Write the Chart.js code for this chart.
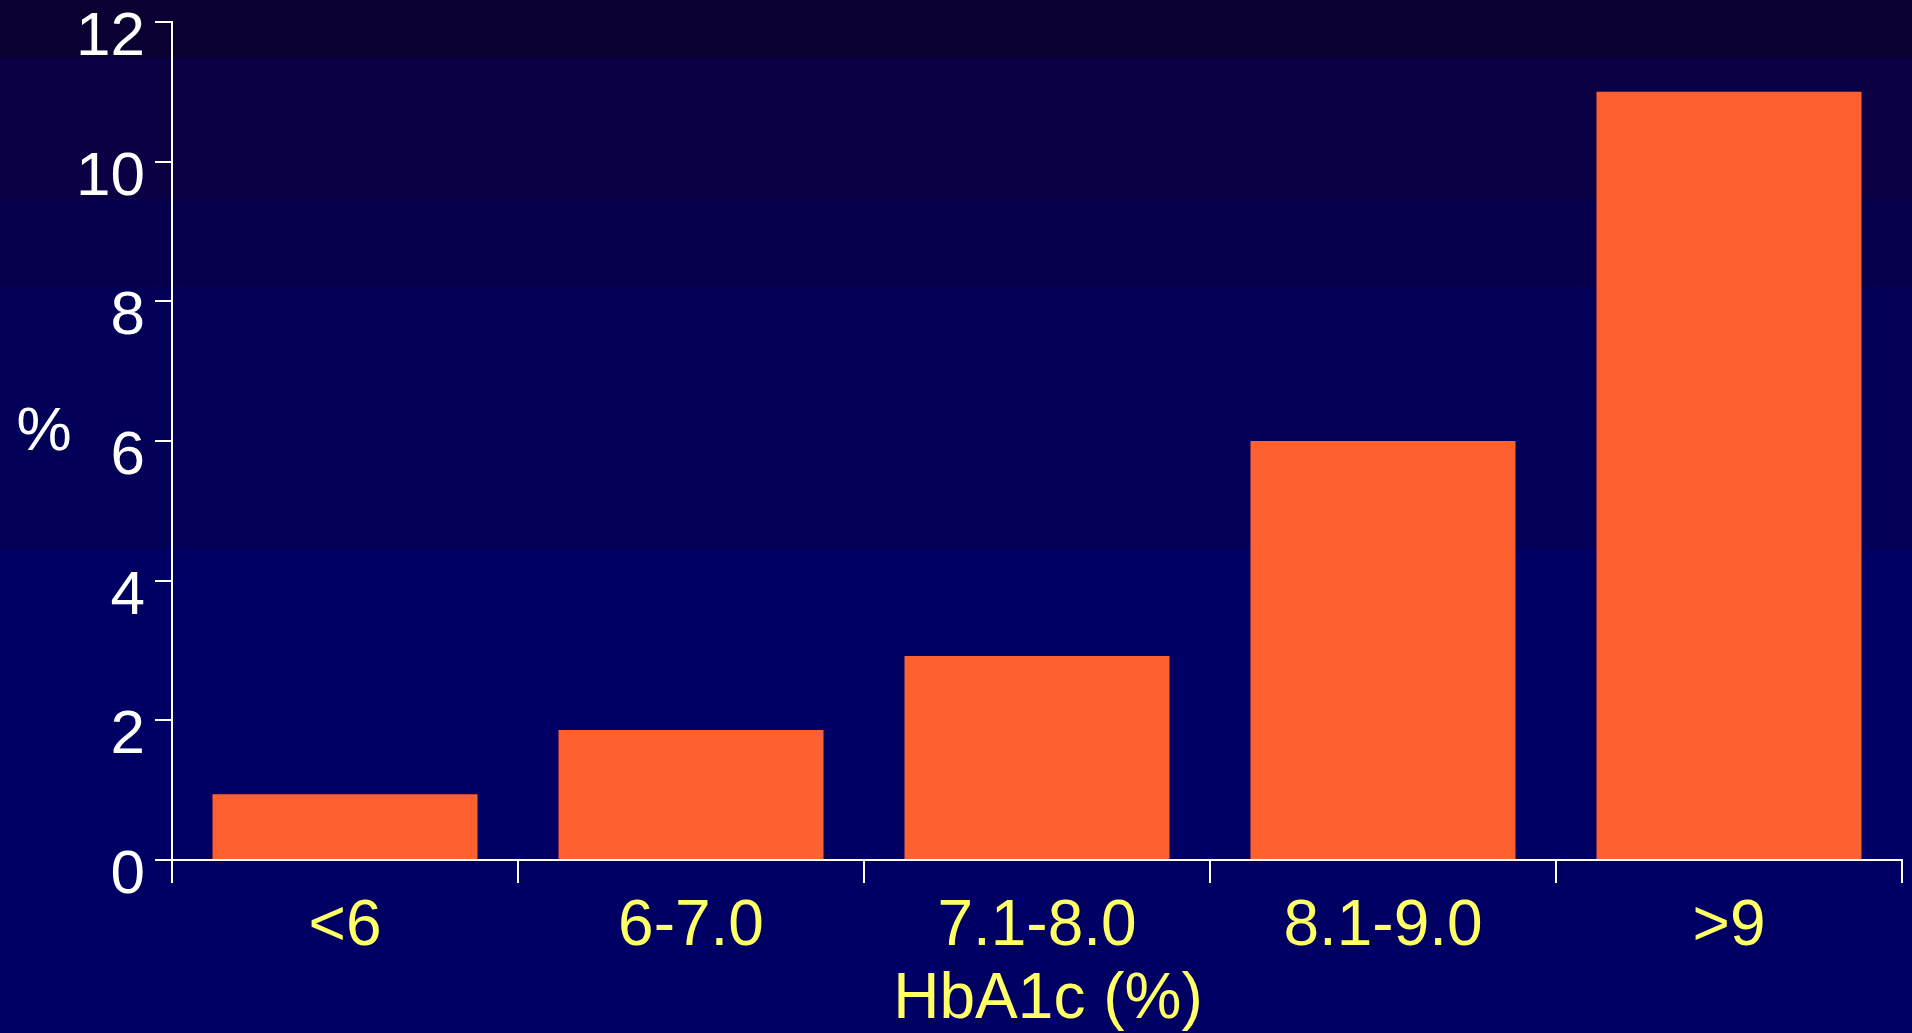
<!DOCTYPE html>
<html>
<head>
<meta charset="utf-8">
<script src="https://cdn.jsdelivr.net/npm/chart.js@4.4.1/dist/chart.umd.min.js"></script>
<style>
  html, body {
    margin: 0;
    padding: 0;
    width: 1912px;
    height: 1033px;
    overflow: hidden;
    background: linear-gradient(to bottom,
      #0a0031 0px, #0a0031 58px,
      #0a0043 58px, #0a0043 200px,
      #06004c 200px, #06004c 287px,
      #030058 287px, #030058 549px,
      #000064 549px, #000064 1033px);
  }
  #wrap { position: relative; width: 1912px; height: 1033px; }
</style>
</head>
<body>
<div id="wrap"><canvas id="chart"></canvas></div>
<script>
// HbA1c bands and the share (%) in each
const categories = ['<6', '6-7.0', '7.1-8.0', '8.1-9.0', '>9'];
const percentValues = [0.94, 1.86, 2.92, 6, 11];
const yTicks = [0, 2, 4, 6, 8, 10, 12];
const xAxisTitle = 'HbA1c (%)';
const yAxisTitle = '%';

const FONT = '"Liberation Sans", Arial, Helvetica, sans-serif';
const WHITE = '#ffffff';
const YELLOW = '#ffff66';

// Axis captions: upright "%" beside the value axis, band caption under the category labels
const axisCaptions = {
  id: 'axisCaptions',
  afterDraw(chart) {
    const { ctx, chartArea } = chart;
    ctx.save();
    ctx.textAlign = 'center';
    ctx.textBaseline = 'middle';

    ctx.font = '62px ' + FONT;
    ctx.fillStyle = WHITE;
    const yMid = chartArea.top + (chartArea.bottom - chartArea.top) * 0.49;
    ctx.fillText(yAxisTitle, 44, yMid);

    ctx.font = '64px ' + FONT;
    ctx.fillStyle = YELLOW;
    const xMid = (chartArea.left + chartArea.right) / 2 + 11;
    ctx.fillText(xAxisTitle, xMid, chartArea.bottom + 140);
    ctx.restore();
  }
};

Chart.defaults.animation = false;

new Chart(document.getElementById('chart'), {
  type: 'bar',
  data: {
    labels: categories,
    datasets: [{
      data: percentValues,
      backgroundColor: '#ff6030',
      borderWidth: 0,
      categoryPercentage: 1.0,
      barPercentage: 0.766
    }]
  },
  options: {
    responsive: true,
    maintainAspectRatio: false,
    devicePixelRatio: 1,
    layout: {
      autoPadding: false,
      padding: { top: 22, right: 10, left: 0, bottom: 0 }
    },
    plugins: {
      legend: { display: false },
      tooltip: { enabled: false },
      title: { display: false }
    },
    scales: {
      x: {
        offset: true,
        afterFit(scale) {
          scale.height = 173;
          scale.paddingLeft = 0;
          scale.paddingRight = 0;
        },
        border: { display: true, color: WHITE, width: 2 },
        grid: {
          offset: true,
          drawOnChartArea: false,
          drawTicks: true,
          tickLength: 23,
          color: WHITE,
          lineWidth: 2
        },
        ticks: {
          color: YELLOW,
          font: { family: FONT, size: 64 },
          padding: 6,
          maxRotation: 0,
          autoSkip: false
        },
        title: { display: false }
      },
      y: {
        min: 0,
        max: 12,
        afterFit(scale) {
          scale.width = 172;
          scale.paddingTop = 0;
          scale.paddingBottom = 0;
        },
        afterBuildTicks(scale) { scale.ticks = yTicks.map(v => ({ value: v })); },
        border: { display: true, color: WHITE, width: 2 },
        grid: {
          drawOnChartArea: false,
          drawTicks: true,
          tickLength: 17,
          color: WHITE,
          lineWidth: 2
        },
        ticks: {
          color: WHITE,
          font: { family: FONT, size: 62 },
          padding: 10,
          labelOffset: 16
        }
      }
    }
  },
  plugins: [axisCaptions]
});
</script>
</body>
</html>
